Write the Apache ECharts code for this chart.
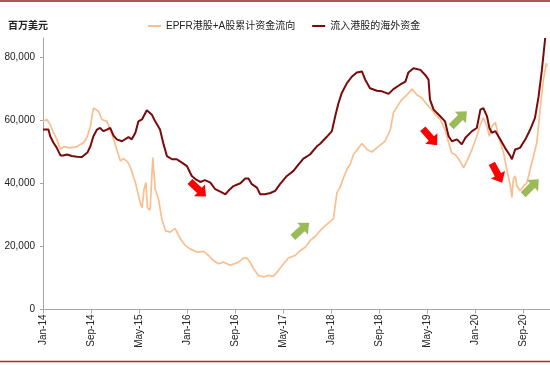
<!DOCTYPE html>
<html>
<head>
<meta charset="utf-8">
<script src="https://cdn.jsdelivr.net/npm/echarts@6/dist/echarts.min.js"></script>
<style>
  html, body { margin: 0; padding: 0; background: #fff; }
  #chart { width: 550px; height: 365px; }
</style>
</head>
<body>
<div id="chart"></div>
<script>
// x positions are months since Jan-14
const tickLabels = ["Jan-14", "Sep-14", "May-15", "Jan-16", "Sep-16", "May-17", "Jan-18", "Sep-18", "May-19", "Jan-20", "Sep-20"];
const monthsPerTick = 8;
const yTicks = [0, 20000, 40000, 60000, 80000];

// EPFR港股+A股累计资金流向
const epfrMonths = [0, 0.65, 1.2, 1.75, 2.3, 2.9, 3.4, 4.5, 5.65, 6.75, 7.3, 7.9, 8.4, 8.7, 9.25, 9.8, 10.65, 11.2, 11.75, 12.3,
  12.9, 13.4, 14.0, 14.5, 15.4, 16.2, 16.5, 16.85, 17.15, 17.4, 17.85, 18.3, 18.7, 19.25, 19.8, 20.4, 21.2, 22.0, 22.9, 23.7,
  24.5, 25.65, 26.75, 27.6, 28.4, 29.25, 30.1, 31.2, 32.6, 33.4, 34.0, 34.5, 35.1, 35.9, 36.75, 37.6, 38.4, 39.25, 40.1, 40.9,
  42.0, 42.9, 43.7, 44.5, 45.4, 46.2, 47.0, 48.4, 49.0, 49.5, 50.1, 50.65, 51.2, 51.75, 52.6, 53.15, 54.0, 54.8, 55.9, 57.0,
  57.9, 58.4, 59.25, 59.8, 60.65, 61.5, 62.3, 63.15, 64.0, 64.8, 65.4, 66.2, 67.0, 67.6, 68.15, 68.7, 69.5, 70.1, 70.65, 71.5,
  72.3, 72.9, 73.4, 74.0, 74.4, 74.8, 75.4, 75.9, 76.75, 77.3, 77.9, 78.15, 78.4, 78.7, 79.0, 79.5, 80.1, 80.65, 81.2, 81.75,
  82.3, 82.9, 83.4, 83.9, 84.0];
const epfrValues = [59600, 60200, 58600, 56000, 53900, 50700, 51600, 51200, 51600, 52800, 54400, 58000, 63800, 64200, 62800, 60200, 59600, 57000, 53900, 50700,
  47000, 47800, 47000, 45400, 40200, 33900, 32300, 38100, 40200, 32300, 31500, 48100, 38100, 35000, 28700, 25000, 24500, 25700, 22400, 20300,
  19200, 18200, 18400, 17100, 15500, 14500, 15000, 14000, 15000, 16300, 16300, 15000, 12900, 10800, 10300, 10800, 10500, 12400, 14500, 16300,
  17100, 18700, 19700, 21800, 23200, 25000, 26500, 28700, 37100, 38600, 41800, 44400, 46000, 49100, 51200, 52600, 50700, 49900, 51600, 53300,
  57000, 62300, 64900, 66500, 68000, 69800, 68000, 67000, 64900, 63300, 61700, 60200, 57000, 52800, 49500, 49100, 47000, 44900, 47000, 50700,
  54900, 58600, 60700, 58000, 54900, 58000, 59300, 54900, 49700, 44400, 39100, 35500, 41300, 42300, 39100, 37600, 39100, 40200, 44400, 48600,
  52800, 64300, 72800, 78000, 77000];

// 流入港股的海外资金
const flowMonths = [0, 0.9, 1.2, 1.75, 2.3, 2.9, 3.4, 4.0, 4.8, 5.65, 6.5, 7.4, 7.9, 8.4, 9.0, 9.5, 10.1, 10.65, 11.2, 11.75,
  12.3, 13.15, 14.25, 14.8, 15.4, 15.9, 16.5, 17.3, 18.15, 18.7, 19.5, 20.1, 20.65, 21.5, 22.3, 23.15, 24.0, 24.5, 24.8, 25.4,
  26.2, 27.0, 27.9, 28.7, 29.8, 30.4, 30.9, 31.75, 32.9, 33.7, 34.25, 34.8, 35.65, 36.2, 37.0, 37.9, 38.7, 39.5, 40.65, 41.75,
  42.6, 43.4, 44.5, 45.65, 46.2, 47.3, 48.15, 48.7, 49.25, 49.8, 50.65, 51.5, 52.3, 53.15, 53.7, 54.5, 55.65, 56.5, 57.6, 58.4,
  59.5, 60.4, 60.9, 61.75, 62.9, 63.7, 64.25, 64.5, 65.1, 66.2, 67.0, 67.6, 68.15, 69.0, 69.8, 70.4, 71.5, 72.3, 72.9, 73.4,
  74.0, 74.4, 74.8, 75.4, 76.2, 77.0, 77.9, 78.15, 78.7, 79.5, 80.4, 81.2, 82.0, 82.6, 83.15, 83.7];
const flowValues = [57000, 57000, 54900, 52800, 51200, 48800, 48800, 49100, 48600, 48400, 48300, 49700, 51700, 54900, 57000, 57500, 56500, 57000, 57500, 55100,
  53900, 53300, 54600, 53900, 56000, 59600, 60200, 63100, 61700, 59600, 57000, 52300, 48600, 47600, 47600, 46500, 45400, 43400, 42300, 41300,
  40400, 41000, 40200, 38100, 37100, 36500, 37600, 39100, 40000, 41500, 41500, 39700, 38600, 36500, 36500, 36900, 37600, 39700, 42300, 43900,
  46000, 47800, 49100, 51700, 52500, 54700, 56500, 61200, 65400, 68600, 71700, 73800, 75100, 75400, 72800, 70100, 69300, 69100, 68300, 69800,
  71200, 72200, 75100, 76400, 75900, 74300, 72800, 66500, 63300, 61200, 59600, 54900, 53300, 53900, 52300, 54400, 56500, 57500, 63300, 63800,
  61200, 57500, 56000, 56500, 53900, 51200, 48600, 47600, 50700, 51200, 53900, 57000, 60700, 67500, 75900, 86000];

const seriesNames = ["EPFR港股+A股累计资金流向", "流入港股的海外资金"];

let chart = echarts.init(document.getElementById("chart"));

let tickMonths = tickLabels.map((t, i) => i * monthsPerTick);
let epfrData = epfrMonths.map((m, i) => [m, epfrValues[i]]);
let flowData = flowMonths.map((m, i) => [m, flowValues[i]]);

// arrow shape pointing right, rotated per annotation
let arrowPts = [[-11, -3.5], [2, -3.5], [2, -8], [11, 0], [2, 8], [2, 3.5], [-11, 3.5]];
let arrows = [
    { x: 198, y: 189, r: -0.75, c: "#ff0000" },
    { x: 301, y: 230, r: 0.73, c: "#9bbb59" },
    { x: 430, y: 137, r: -0.86, c: "#ff0000" },
    { x: 459, y: 119, r: 0.77, c: "#9bbb59" },
    { x: 497, y: 173, r: -1.08, c: "#ff0000" },
    { x: 531, y: 187, r: 0.78, c: "#9bbb59" }
];

let graphics = [
    { type: "line", shape: { x1: 0, y1: 1, x2: 550, y2: 1 }, style: { stroke: "#8b2020", lineWidth: 1.5 } },
    { type: "line", shape: { x1: 0, y1: 361.5, x2: 550, y2: 361.5 }, style: { stroke: "#a0302f", lineWidth: 1.5 } }
];
arrows.forEach(a => {
    graphics.push({
        type: "polygon",
        x: a.x, y: a.y, rotation: a.r,
        shape: { points: arrowPts },
        style: { fill: a.c },
        z: 100
    });
});

let option = {
    animation: false,
    title: {
        text: "百万美元",
        left: 3,
        top: 15,
        textStyle: { fontSize: 10, fontWeight: "bold", color: "#222", fontFamily: "Noto Sans CJK SC" }
    },
    legend: {
        data: seriesNames,
        left: 143,
        top: 16,
        icon: "rect",
        itemWidth: 13,
        itemHeight: 2,
        itemGap: 17,
        textStyle: { fontSize: 10, color: "#222", fontFamily: "Liberation Sans, Noto Sans CJK SC" }
    },
    grid: { left: 43, right: 0, top: 38, bottom: 55.5 },
    xAxis: {
        type: "value",
        min: 0,
        max: 84.5,
        axisLine: { lineStyle: { color: "#a6a6a6" } },
        axisTick: { customValues: tickMonths, length: 4, lineStyle: { color: "#a6a6a6" } },
        splitLine: { show: false },
        axisLabel: {
            customValues: tickMonths,
            rotate: 90,
            margin: 5,
            fontSize: 10,
            color: "#222",
            fontFamily: "Liberation Sans",
            formatter: v => tickLabels[Math.round(v / monthsPerTick)]
        }
    },
    yAxis: {
        type: "value",
        min: 0,
        max: 86000,
        interval: 20000,
        axisLine: { show: true, lineStyle: { color: "#a6a6a6" } },
        axisTick: { show: true, customValues: yTicks, length: 3, lineStyle: { color: "#a6a6a6" } },
        splitLine: { show: false },
        axisLabel: {
            customValues: yTicks,
            margin: 8,
            fontSize: 10,
            color: "#222",
            fontFamily: "Liberation Sans",
            formatter: v => v.toLocaleString("en-US")
        }
    },
    graphic: graphics,
    series: [
        {
            name: seriesNames[0],
            type: "line",
            data: epfrData,
            symbol: "none",
            lineStyle: { color: "#f9bf8f", width: 1.7 },
            itemStyle: { color: "#f9bf8f" }
        },
        {
            name: seriesNames[1],
            type: "line",
            data: flowData,
            symbol: "none",
            lineStyle: { color: "#7b0a0a", width: 2 },
            itemStyle: { color: "#7b0a0a" }
        }
    ]
};
chart.setOption(option);
</script>
</body>
</html>
